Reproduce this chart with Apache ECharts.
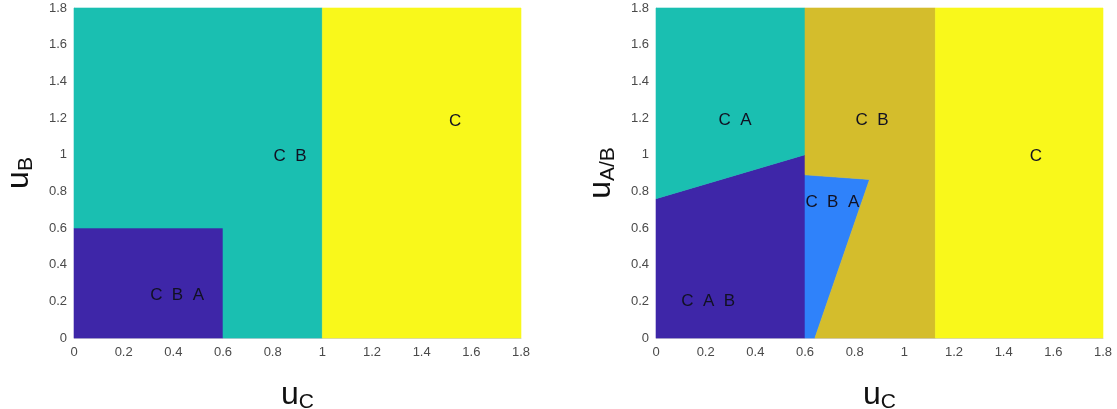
<!DOCTYPE html>
<html>
<head>
<meta charset="utf-8">
<script src="https://cdn.jsdelivr.net/npm/echarts@6/dist/echarts.min.js"></script>
<style>
  html, body { margin: 0; padding: 0; background: #fff; }
  #chart { width: 1117px; height: 409px; }
</style>
</head>
<body>
<div id="chart"></div>
<script>
// Tick values shared by both axes of both panels
const uTicks = [0, 0.2, 0.4, 0.6, 0.8, 1, 1.2, 1.4, 1.6, 1.8];

// Left panel: regions in the (u_C, u_B) plane
const leftNames = ['C B A', 'C B', 'C'];
const leftPolygons = [
  [[0, 0], [0.6, 0], [0.6, 0.6], [0, 0.6]],
  [[0.6, 0], [1, 0], [1, 1.8], [0, 1.8], [0, 0.6], [0.6, 0.6]],
  [[1, 0], [1.8, 0], [1.8, 1.8], [1, 1.8]]
];
const leftLabelAt = [[0.415, 0.235], [0.87, 0.99], [1.535, 1.18]];
const leftColors = ['#3e26a8', '#1abfb1', '#f9f81b'];

// Right panel: regions in the (u_C, u_A/B) plane
const rightNames = ['C A B', 'C A', 'C B A', 'C B', 'C'];
const rightPolygons = [
  [[0, 0], [0.6, 0], [0.6, 1.0], [0, 0.76]],
  [[0, 0.76], [0.6, 1.0], [0.6, 1.8], [0, 1.8]],
  [[0.6, 0], [0.64, 0], [0.86, 0.865], [0.6, 0.89]],
  [[0.6, 0.89], [0.86, 0.865], [0.64, 0], [1.125, 0], [1.125, 1.8], [0.6, 1.8]],
  [[1.125, 0], [1.8, 0], [1.8, 1.8], [1.125, 1.8]]
];
const rightLabelAt = [[0.21, 0.2], [0.318, 1.19], [0.71, 0.74], [0.87, 1.19], [1.53, 0.99]];
const rightColors = ['#3e26a8', '#1abfb1', '#2f82fa', '#d4bd2c', '#f9f81b'];

const axisFont = 'Liberation Sans, Arial, sans-serif';

function regionSeries(idx, polygons, colors) {
  return {
    type: 'custom',
    xAxisIndex: idx,
    yAxisIndex: idx,
    silent: true,
    data: polygons.map((p, i) => [i]),
    renderItem: function (params, api) {
      const i = api.value(0);
      const pts = polygons[i].map(v => api.coord(v));
      return {
        type: 'polygon',
        shape: { points: pts },
        style: { fill: colors[i], stroke: colors[i], lineWidth: 0.6 }
      };
    }
  };
}

function labelSeries(idx, names, at) {
  return {
    type: 'custom',
    xAxisIndex: idx,
    yAxisIndex: idx,
    silent: true,
    z: 5,
    data: at.map((p, i) => [p[0], p[1], i]),
    renderItem: function (params, api) {
      const pt = api.coord([api.value(0), api.value(1)]);
      return {
        type: 'text',
        x: pt[0],
        y: pt[1],
        style: {
          text: names[api.value(2)].split(' ').join('  '),
          fill: '#111122',
          font: '17px ' + axisFont,
          align: 'center',
          verticalAlign: 'middle'
        }
      };
    }
  };
}

const tickFormat = v => String(Number(v.toFixed(1)));

function titleRich() {
  return {
    u: { fontSize: 32, fontFamily: axisFont, color: '#111', verticalAlign: 'top', lineHeight: 34 },
    s: { fontSize: 21, fontFamily: axisFont, color: '#111', verticalAlign: 'bottom', lineHeight: 22, padding: [20, 0, 0, 0] }
  };
}

function xAxis(idx) {
  return {
    type: 'value',
    gridIndex: idx,
    min: uTicks[0], max: uTicks[uTicks.length - 1], interval: uTicks[1] - uTicks[0],
    splitLine: { show: false },
    axisTick: { show: false },
    axisLine: { show: true, lineStyle: { color: '#cfcfd8', width: 1 } },
    axisLabel: { margin: 8, color: '#4a4a4a', fontSize: 13, fontFamily: axisFont, formatter: tickFormat },
    name: '{u|u}{s|C}',
    nameLocation: 'middle',
    nameGap: 41,
    nameTextStyle: { rich: titleRich() }
  };
}

function yAxis(idx, sub) {
  return {
    type: 'value',
    gridIndex: idx,
    min: uTicks[0], max: uTicks[uTicks.length - 1], interval: uTicks[1] - uTicks[0],
    splitLine: { show: false },
    axisTick: { show: false },
    axisLine: { show: true, lineStyle: { color: '#cfcfd8', width: 1 } },
    axisLabel: { margin: 7, color: '#4a4a4a', fontSize: 13, fontFamily: axisFont, formatter: tickFormat },
    name: '{u|u}{s|' + sub + '}',
    nameLocation: 'middle',
    nameRotate: 90,
    nameGap: 37,
    nameTextStyle: { rich: titleRich() }
  };
}

const chart = echarts.init(document.getElementById('chart'), null, { renderer: 'canvas' });
chart.setOption({
  animation: false,
  backgroundColor: '#ffffff',
  grid: [
    { left: 74, top: 8, width: 447, height: 330, containLabel: false, outerBoundsMode: 'none' },
    { left: 656, top: 8, width: 447, height: 330, containLabel: false, outerBoundsMode: 'none' }
  ],
  xAxis: [xAxis(0), xAxis(1)],
  yAxis: [yAxis(0, 'B'), yAxis(1, 'A/B')],
  series: [
    regionSeries(0, leftPolygons, leftColors),
    labelSeries(0, leftNames, leftLabelAt),
    regionSeries(1, rightPolygons, rightColors),
    labelSeries(1, rightNames, rightLabelAt)
  ]
});
</script>
</body>
</html>
